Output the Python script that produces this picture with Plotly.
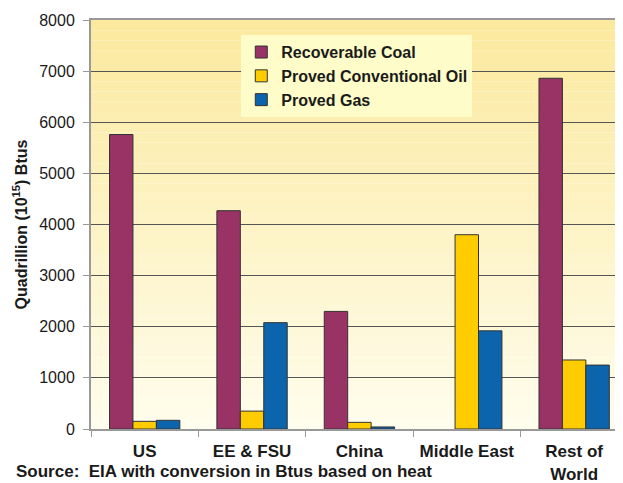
import plotly.graph_objects as go

categories = ["US", "EE & FSU", "China", "Middle East", "Rest of<br>World"]
coal = [5760, 4270, 2300, None, 6860]
oil = [150, 350, 130, 3800, 1350]
gas = [170, 2080, 40, 1920, 1250]
y_ticks = [0, 1000, 2000, 3000, 4000, 5000, 6000, 7000, 8000]

FONT = "Liberation Sans, Arial, sans-serif"
TXT = "#1a1a1a"

fig = go.Figure()
for name, vals, col in [
    ("<b>Recoverable Coal</b>", coal, "#993366"),
    ("<b>Proved Conventional Oil</b>", oil, "#FFCC00"),
    ("<b>Proved Gas</b>", gas, "#0B64AC"),
]:
    fig.add_trace(go.Bar(
        x=categories, y=vals, name=name,
        marker=dict(color=col, line=dict(color="#333333", width=1)),
    ))

# vertical gradient background for plot area
n = 40
top = (251, 233, 158)
bot = (255, 253, 236)
for i in range(n):
    t = i / (n - 1)
    c = tuple(int(round(top[k] + (bot[k] - top[k]) * t)) for k in range(3))
    fig.add_shape(type="rect", xref="x domain", yref="y domain",
                  x0=0, x1=1, y0=1 - (i + 1) / n, y1=1 - i / n,
                  fillcolor="rgb(%d,%d,%d)" % c, line=dict(width=0),
                  layer="below")

fig.add_annotation(text="<b>Source:  EIA with conversion in Btus based on heat</b>",
                   xref="paper", yref="paper", x=-0.143, y=-0.130,
                   xanchor="left", yanchor="bottom", showarrow=False,
                   borderpad=0,
                   font=dict(family=FONT, size=17, color=TXT))

fig.update_layout(
    width=615, height=475,
    margin=dict(l=83, r=0, t=12, b=54),
    paper_bgcolor="white",
    plot_bgcolor="rgba(0,0,0,0)",
    barmode="group", bargap=0.345, bargroupgap=0,
    font=dict(family=FONT, size=16, color=TXT),
    showlegend=True,
    legend=dict(x=0.2825, y=0.963, xanchor="left", yanchor="top",
                bgcolor="#FEFCC8", borderwidth=0,
                font=dict(family=FONT, size=16, color=TXT),
                tracegroupgap=0, itemwidth=30),
    xaxis=dict(range=[-0.5, 4.455], showline=True, mirror=True,
               linecolor="#999999", linewidth=2, ticks="outside",
               tickson="boundaries", ticklen=6, tickcolor="#999999",
               tickfont=dict(family=FONT, size=17, color=TXT),
               tickprefix="<b>", ticksuffix="</b>", showgrid=False,
               ticklabelstandoff=6, automargin=False),
    yaxis=dict(range=[0, 8000], tickvals=y_ticks, showline=True,
               linecolor="#999999", linewidth=2, ticks="outside",
               ticklen=6, tickcolor="#999999",
               gridcolor="#555555", gridwidth=1,
               tickfont=dict(family=FONT, size=16, color=TXT),
               tickprefix="<b>", ticksuffix="</b>",
               ticklabelstandoff=5,
               title=dict(text="<b>Quadrillion (10<sup>15</sup>) Btus</b>",
                          font=dict(family=FONT, size=16, color=TXT),
                          standoff=8),
               zeroline=False, automargin=False),
)

fig.write_html("out.html")
